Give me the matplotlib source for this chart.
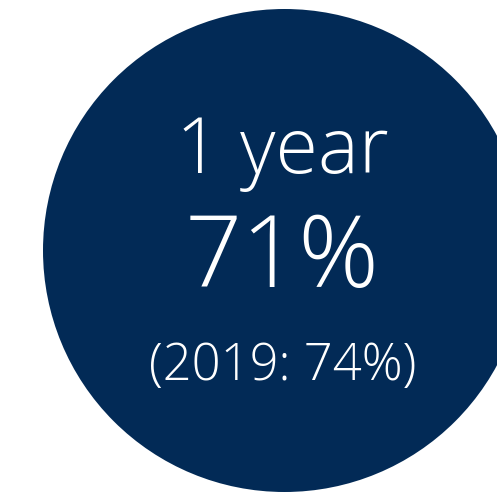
import matplotlib.pyplot as plt
from matplotlib.patches import Circle

# canvas in pixels
W, H = 497, 494

# circle (pixel coords, y down)
circle_center = (284.5, 250.5)
circle_radius = 241.5
circle_color = "#022a56"

# text lines: label, baseline y, font size (pt)
labels = ["1 year", "71%", "(2019: 74%)"]
baselines = [173, 287, 380]
fsizes = [55.5, 72, 36.5]
text_x = 282.5

fig = plt.figure(figsize=(W / 100, H / 100), dpi=100)
ax = fig.add_axes([0, 0, 1, 1])
ax.set_xlim(0, W)
ax.set_ylim(H, 0)
ax.axis("off")

ax.add_patch(Circle(circle_center, circle_radius, color=circle_color, lw=0))

for lab, yb, fs in zip(labels, baselines, fsizes):
    ax.text(text_x, yb, lab, ha="center", va="baseline", color="white",
            fontsize=fs, fontfamily=["Open Sans", "DejaVu Sans"], fontweight="light")

fig.savefig("out.png", dpi=100)
